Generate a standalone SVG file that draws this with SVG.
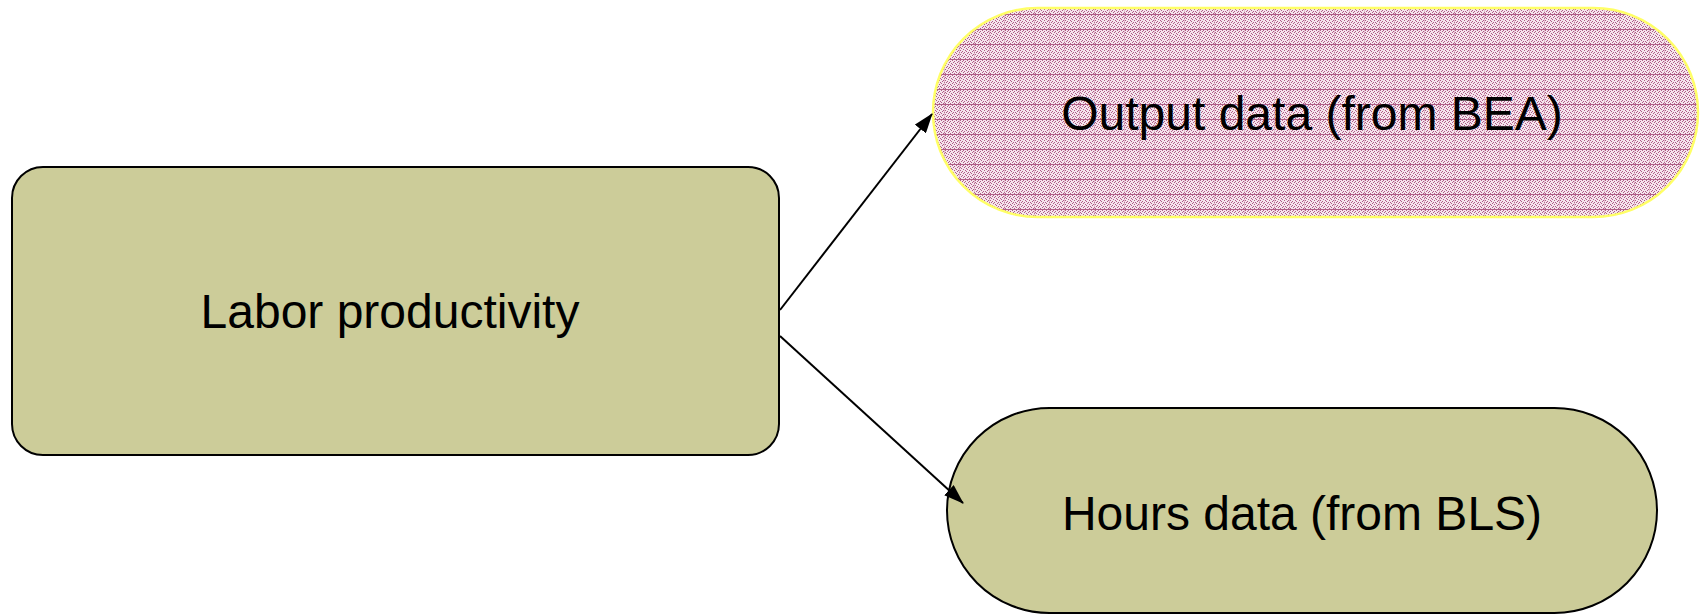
<svg xmlns="http://www.w3.org/2000/svg" width="1707" height="615" viewBox="0 0 1707 615">
<style>
.node{fill:#cccc99;stroke:#000;stroke-width:2}
.lbl{font-family:"Liberation Sans",Arial,sans-serif;font-size:48px;fill:#000;text-anchor:middle}
.edge{stroke:#000;stroke-width:2;fill:none;marker-end:url(#arr)}
</style>
<defs>
<marker id="arr" viewBox="0 0 20 14" refX="19" refY="7" markerWidth="20" markerHeight="14" markerUnits="userSpaceOnUse" orient="auto">
<path d="M0 0L20 7L0 14z" fill="#000"/>
</marker>
<pattern id="dots" patternUnits="userSpaceOnUse" width="15" height="15">
<rect width="15" height="15" fill="#f5e6ed"/>
<path fill="#b05a88" shape-rendering="crispEdges" d="M0 0h1v1H0zM3 0h1v1H3zM7 0h1v1H7zM11 0h1v1h-1zM2 1h1v1H2zM5 1h1v1H5zM9 1h1v1H9zM13 1h1v1h-1zM0 2h1v1H0zM4 2h1v1H4zM8 2h1v1H8zM12 2h1v1h-1zM1 3h1v1H1zM6 3h1v1H6zM10 3h1v1h-1zM14 3h1v1h-1zM3 4h1v1H3zM7 4h1v1H7zM11 4h1v1h-1zM0 5h1v1H0zM5 5h1v1H5zM9 5h1v1H9zM13 5h1v1h-1zM2 6h1v1H2zM6 6h1v1H6zM12 6h1v1h-1zM1 7h1v1H1zM4 7h1v1H4zM8 7h1v1H8zM10 7h1v1h-1zM14 7h1v1h-1zM3 8h1v1H3zM7 8h1v1H7zM11 8h1v1h-1zM0 9h1v1H0zM5 9h1v1H5zM9 9h1v1H9zM13 9h1v1h-1zM2 10h1v1H2zM6 10h1v1H6zM12 10h1v1h-1zM1 11h1v1H1zM4 11h1v1H4zM8 11h1v1H8zM10 11h1v1h-1zM3 12h1v1H3zM7 12h1v1H7zM11 12h1v1h-1zM14 12h1v1h-1zM0 13h1v1H0zM5 13h1v1H5zM9 13h1v1H9zM13 13h1v1h-1z"/>
<rect x="0" y="14" width="15" height="1" fill="#993366" opacity="0.75" shape-rendering="crispEdges"/>
<rect x="14" y="0" width="1" height="14" fill="#c8859f" opacity="0.4" shape-rendering="crispEdges"/>
</pattern>
</defs>
<g id="node-labor">
<rect class="node" x="12" y="167" width="767" height="288" rx="31" ry="31"/>
<text class="lbl" x="390" y="328">Labor productivity</text>
</g>
<g id="node-output">
<rect x="933" y="8" width="765" height="209" rx="104.5" ry="104.5" fill="url(#dots)" stroke="#ffff66" stroke-width="2.5"/>
<text class="lbl" x="1312" y="130">Output data (from BEA)</text>
</g>
<g id="node-hours">
<rect class="node" x="947" y="408" width="710" height="205" rx="102.5" ry="102.5"/>
<text class="lbl" x="1302" y="530">Hours data (from BLS)</text>
</g>
<g id="connectors">
<line class="edge" x1="780" y1="310" x2="932" y2="114"/>
<line class="edge" x1="780" y1="336" x2="963" y2="503"/>
</g>
</svg>
